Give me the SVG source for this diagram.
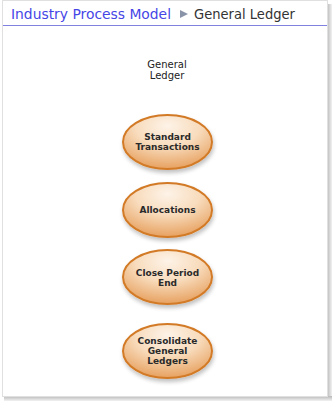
<svg xmlns="http://www.w3.org/2000/svg" width="332" height="401" viewBox="0 0 332 401">
<defs>
<radialGradient id="g" cx="0.5" cy="0.25" r="0.8" fx="0.5" fy="0.2">
<stop offset="0" stop-color="#fdf3e8"/>
<stop offset="0.45" stop-color="#f8dcbd"/>
<stop offset="1" stop-color="#e59a55"/>
</radialGradient>
<filter id="sh" x="-20%" y="-20%" width="140%" height="150%">
<feGaussianBlur in="SourceAlpha" stdDeviation="2"/>
<feOffset dx="1" dy="3" result="b"/>
<feComponentTransfer><feFuncA type="linear" slope="0.25"/></feComponentTransfer>
<feMerge><feMergeNode/><feMergeNode in="SourceGraphic"/></feMerge>
</filter>
<linearGradient id="rs" x1="0" x2="1"><stop offset="0" stop-color="#b8b8b8"/><stop offset="1" stop-color="#f2f2f2"/></linearGradient>
<linearGradient id="bs" x1="0" y1="0" x2="0" y2="1"><stop offset="0" stop-color="#b8b8b8"/><stop offset="1" stop-color="#f2f2f2"/></linearGradient>
</defs>
<style>
.n ellipse{fill:url(#g);stroke:#d27a26;stroke-width:2;filter:url(#sh)}
.n text{font-family:"DejaVu Sans",Verdana,sans-serif;font-size:9px;fill:#2a2a2a;text-anchor:middle;font-weight:bold}
.t{font-family:"DejaVu Sans",Verdana,sans-serif;font-size:10px;fill:#222;text-anchor:middle}
.h{font-family:"DejaVu Sans",Verdana,sans-serif;font-size:14px}
</style>
<rect width="332" height="401" fill="#ffffff"/>
<rect x="327" y="4" width="5" height="397" fill="url(#rs)"/>
<rect x="4" y="396" width="328" height="5" fill="url(#bs)"/>
<rect x="2.5" y="0.5" width="325" height="396" fill="#ffffff" stroke="#e0e0e0"/>
<line x1="3" y1="25.5" x2="327" y2="25.5" stroke="#8080e0" stroke-width="1"/>
<g id="header">
<text class="h" x="11" y="19" fill="#4646e6" textLength="160" lengthAdjust="spacingAndGlyphs">Industry Process Model</text>
<polygon points="180,10 188,14 180,18" fill="#8a94a8"/>
<text class="h" x="194" y="19" fill="#333333" textLength="101" lengthAdjust="spacingAndGlyphs">General Ledger</text>
</g>
<g id="title">
<text class="t" x="167" y="68">General</text>
<text class="t" x="167" y="79">Ledger</text>
</g>
<g id="connectors"></g>
<g id="standard-transactions" class="n">
<ellipse cx="167.5" cy="142" rx="44.5" ry="27"/>
<text x="167.5" y="140">Standard</text>
<text x="167.5" y="150">Transactions</text>
</g>
<g id="allocations" class="n">
<ellipse cx="167.5" cy="210" rx="44.5" ry="27"/>
<text x="167.5" y="213">Allocations</text>
</g>
<g id="close-period-end" class="n">
<ellipse cx="167.5" cy="277" rx="44.5" ry="27"/>
<text x="167.5" y="276">Close Period</text>
<text x="167.5" y="286">End</text>
</g>
<g id="consolidate-general-ledgers" class="n">
<ellipse cx="167.5" cy="351" rx="44.5" ry="27"/>
<text x="167.5" y="344">Consolidate</text>
<text x="167.5" y="354">General</text>
<text x="167.5" y="364">Ledgers</text>
</g>
</svg>
